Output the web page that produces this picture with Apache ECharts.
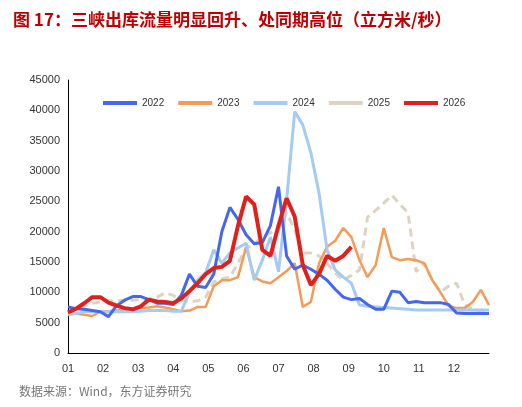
<!DOCTYPE html>
<html><head><meta charset="utf-8">
<script src="https://cdn.jsdelivr.net/npm/echarts@6/dist/echarts.min.js"></script>
<style>body{margin:0;background:#fff}#c{width:522px;height:407px}</style>
</head><body><div id="c"></div>
<script>
const monthLabels = ['01','02','03','04','05','06','07','08','09','10','11','12'];
const s2022 = [7600,7300,7200,7000,6800,6000,7800,8700,9300,9300,8800,8200,8200,8000,9500,13000,11000,10800,13000,20000,24000,22000,19500,18000,18200,21000,27400,16000,13800,14500,13800,13000,12000,10500,9200,8800,9000,8000,7200,7200,10200,10000,8300,8500,8300,8300,8300,8000,6600,6500,6500,6500,6500];
const s2023 = [6600,6500,6300,6100,6800,6900,7000,7100,7200,7400,7500,7700,7500,7200,6900,7000,7600,7600,11000,12000,12000,12500,17500,12500,11800,11500,12500,13500,14800,7600,8400,14800,17500,18500,20600,19100,15300,12500,14500,20600,15800,15300,15500,15300,14800,12000,10000,7800,7400,7400,8400,10400,7900];
const s2024 = [6300,6500,6800,6800,6800,6800,6800,6800,6800,6900,7000,7000,7000,6900,6900,10000,12000,13200,17000,14800,16500,17300,18100,12000,15300,19100,13400,25200,39800,37600,33000,26400,17000,13700,12500,11500,7900,7700,7600,7500,7400,7300,7200,7100,7100,7100,7100,7100,7100,7100,7100,7100,7100];
const s2025 = [6600,7200,7800,8200,8400,8600,8600,8700,8700,8800,8900,9200,9900,9500,8700,8400,8600,9200,11700,12200,12500,14800,17300,18000,19100,19800,20300,23100,20300,16500,16500,16000,14800,13200,12000,12800,13700,22400,23500,24700,26000,24500,23100,13400,14800,12000,10100,11000,11500,7900,7200,6900,6800];
const s2026 = [6700,7300,8200,9200,9200,8300,7800,7400,7200,7700,8800,8500,8400,8200,9000,10200,11500,13000,14000,14200,15200,21000,25800,24500,17000,16000,21000,25500,22500,14500,11200,13000,16000,15200,16000,17500];
const W = 52/12;
const pts = a => a.map((v,i)=>[i,v]);
const chart = echarts.init(document.getElementById('c'));
const ff = 'Noto Sans CJK SC';
function line(name, data, color, width, dashed, z){
  return {name, type:'line', data:pts(data), symbol:'none', z,
    lineStyle:{color, width, type: dashed?[8,5]:'solid'}, itemStyle:{color}};
}
chart.setOption({
  animation:false,
  textStyle:{fontFamily:ff},
  title:[{text:'图 17：三峡出库流量明显回升、处同期高位（立方米/秒）', left:8, top:6,
    textStyle:{color:'#c00000', fontSize:17, fontWeight:'bold', fontFamily:ff}},
    {text:'数据来源：Wind，东方证券研究', left:14, top:380,
    textStyle:{color:'#777', fontSize:12, fontWeight:'normal', fontFamily:ff}}],
  legend:{top:93, left:98, itemWidth:34, itemHeight:4, itemGap:14, icon:'rect',
    textStyle:{fontSize:10, color:'#333', fontFamily:'Liberation Sans'},
    data:['2022','2023','2024','2025','2026']},
  grid:{left:68, right:33, top:80, bottom:54},
  xAxis:{type:'value', min:0, max:52, interval:W,
    axisLine:{lineStyle:{color:'#000'}}, axisTick:{show:false}, splitLine:{show:false},
    axisLabel:{color:'#333', fontSize:11, margin:10, fontFamily:'Liberation Sans',
      formatter:v=>{const k=Math.round(v/W); return k<12?monthLabels[k]:'';}}},
  yAxis:{type:'value', min:0, max:45000, interval:5000,
    axisLine:{show:true, lineStyle:{color:'#000'}}, axisTick:{show:false}, splitLine:{show:false},
    axisLabel:{color:'#333', fontSize:11, fontFamily:'Liberation Sans', formatter:v=>String(v)}},
  series:[
    line('2022', s2022, '#4466f0', 3, false, 3),
    line('2023', s2023, '#f79a55', 2.5, false, 2),
    line('2024', s2024, '#a4cbf3', 3, false, 2),
    line('2025', s2025, '#ddd3c0', 3, true, 1),
    line('2026', s2026, '#e0201b', 4, false, 5)
  ]
});
</script></body></html>
